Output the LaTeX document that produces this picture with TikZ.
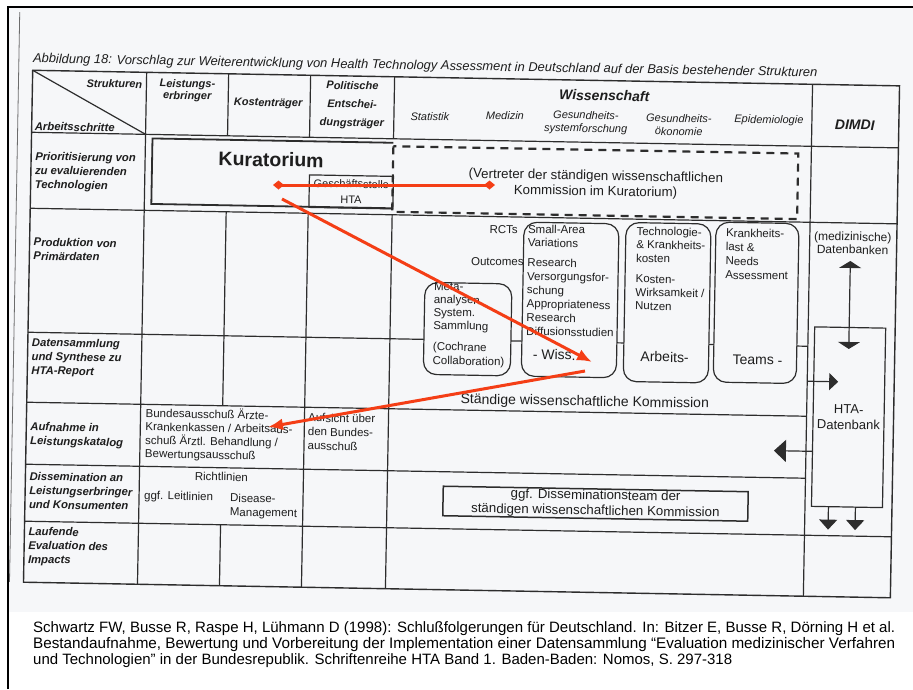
\documentclass[tikz,border=0pt]{standalone}
\usepackage{graphicx}
\usepackage{fontspec}
\setmainfont{Liberation Sans}
\usetikzlibrary{arrows.meta}
\definecolor{ink}{RGB}{30,30,30}
\definecolor{rule}{RGB}{45,45,45}
\definecolor{scan}{RGB}{246,247,249}
\definecolor{marker}{RGB}{244,62,22}

\begin{document}
\begin{tikzpicture}[x=1pt,y=-1pt,
  grid/.style={draw=rule,line width=1.2pt},
  lbl/.style={font=\bfseries\itshape\fontsize{11.3}{14}\selectfont,align=left,inner sep=0pt,text=ink,anchor=west},
  colhd/.style={font=\bfseries\itshape\fontsize{11}{12}\selectfont,align=center,inner sep=0pt,text=ink},
  subhd/.style={font=\itshape\fontsize{11}{13}\selectfont,align=center,inner sep=0pt,text=ink},
  txt/.style={font=\fontsize{11.5}{13.5}\selectfont,align=left,inner sep=0pt,text=ink,anchor=west},
  mid/.style={font=\fontsize{13.3}{15.4}\selectfont,align=center,inner sep=0pt,text=ink},
  big/.style={font=\fontsize{14}{16}\selectfont,inner sep=0pt,text=ink},
  rbox/.style={draw=rule,line width=1.2pt,rounded corners=13pt,fill=scan},
  blk/.style={draw=rule,line width=1.2pt},
  redline/.style={draw=marker,line width=3pt},
  cite/.style={font=\fontsize{12}{16}\selectfont,inner sep=0pt,anchor=west,text=black}
]
\useasboundingbox (0,0) rectangle (913,689);
\fill[white] (0,0) rectangle (913,689);
% scanned page area and frame
\fill[scan] (8,7) rectangle (913,612);
\draw[black,line width=2.5pt] (8,689) -- (8,7) -- (913,7);

\begin{scope}[rotate around={-1.03:(460,335)},transform shape]
  % edge of the scanned sheet
  \draw[rule!70,line width=0.8pt] (14,20) -- (14,590);
  % title
  \node[anchor=west,inner sep=0pt,text=ink,font=\itshape\fontsize{12.9}{14}\selectfont] (title) at (28,67)
    {Abbildung 18: Vorschlag zur Weiterentwicklung von Health Technology Assessment in Deutschland auf der Basis bestehender Strukturen};

  % table rules
  \draw[grid,line width=1.4pt] (28,78) rectangle (895,590);
  \draw[grid] (28,140) -- (895,140);
  \draw[grid] (28,216) -- (895,216);
  \draw[grid] (28,340) -- (808,340);
  \draw[grid] (28,410) -- (808,410);
  \draw[grid] (28,472) -- (808,472);
  \draw[grid] (28,529) -- (895,529);
  \draw[grid] (142,78) -- (142,590);
  \draw[grid] (224,78) -- (224,140) (224,216) -- (224,410) (224,529) -- (224,590);
  \draw[grid] (306,78) -- (306,140) (306,216) -- (306,590);
  \draw[grid] (390,78) -- (390,140) (390,216) -- (390,590);
  \draw[grid] (808,78) -- (808,590);
  \draw[grid] (28,78) -- (142,140);

  % header
  \node[colhd,anchor=east] (strk) at (138,90) {Strukturen};
  \node[lbl] (arbs) at (31,134) {Arbeitsschritte};
  \node[colhd] (leist) at (183,95.5) {Leistungs-\\erbringer};
  \node[colhd] (kost) at (264,107) {Kostenträger};
  \node[colhd,font=\bfseries\itshape\fontsize{11}{18.5}\selectfont] (polit) at (348,107) {Politische\\Entschei-\\dungsträger};
  \node[colhd,font=\bfseries\itshape\fontsize{14}{16}\selectfont] (wiss) at (600,93) {Wissenschaft};
  \node[subhd] (stat) at (426,117) {Statistik};
  \node[subhd] (med) at (501,115) {Medizin};
  \node[subhd] (gsf) at (582,120.5) {Gesundheits-\\systemforschung};
  \node[subhd] (goek) at (675,121) {Gesundheits-\\ökonomie};
  \node[subhd] (epi) at (765,115) {Epidemiologie};
  \node[colhd,font=\bfseries\itshape\fontsize{14}{16}\selectfont] (dimdi) at (851,118) {DIMDI};

  % row labels
  \node[lbl] (prior) at (32,179) {Prioritisierung von\\zu evaluierenden\\Technologien};
  \node[lbl] (prod) at (32,256.5) {Produktion von\\Primärdaten};
  \node[lbl] (daten) at (32,365) {Datensammlung\\und Synthese zu\\HTA-Report};
  \node[lbl] (aufn) at (32,442.5) {Aufnahme in\\Leistungskatalog};
  \node[lbl] (dissem) at (32,498) {Dissemination an\\Leistungserbringer\\und Konsumenten};
  \node[lbl] (lauf) at (32,554) {Laufende\\Evaluation des\\Impacts};

  % prioritisation row
  \draw[draw=rule,line width=1.8pt] (390,144) -- (149,144) -- (149,209.5) -- (390,209.5);
  \node[font=\bfseries\fontsize{19.5}{22}\selectfont,inner sep=0pt,text=ink] (kur) at (268,163) {Kuratorium};
  \node[blk,minimum width=84pt,minimum height=32.5pt,inner sep=0pt,anchor=north west,
        font=\fontsize{11}{16}\selectfont,align=center,text=ink] (gs) at (306,177) {Geschäftsstelle\\HTA};
  \draw[draw=rule,line width=2.2pt,dash pattern=on 8pt off 6pt] (390,147.5) rectangle (795,213);
  \node[mid] (vertr) at (593,182) {(Vertreter der ständigen wissenschaftlichen\\Kommission im Kuratorium)};

  % working teams of the scientific commission
  \draw[rbox] (424,283) rectangle (511,375);
  \draw[rbox] (522,221) rectangle (617,375);
  \draw[rbox] (624,219.5) rectangle (709,378.5);
  \draw[rbox] (714,217.5) rectangle (797,377.5);
  \node[txt,font=\fontsize{11.5}{13}\selectfont] (meta) at (433,307.5) {Meta-\\analysen\\System.\\Sammlung};
  \node[txt,font=\fontsize{11.5}{14}\selectfont] (cochr) at (433,355) {(Cochrane\\Collaboration)};
  \node[txt,anchor=east] (rct) at (516,229) {RCTs};
  \node[txt,anchor=east] (outc) at (522.5,261) {Outcomes};
  \node[txt] (sav) at (526,234.5) {Small-Area\\Variations};
  \node[txt,font=\fontsize{11.5}{13.8}\selectfont] (resr) at (526,295.5) {Research\\Versorgungsfor-\\schung\\Appropriateness\\Research\\Diffusionsstudien};
  \node[big,anchor=west] (wissl) at (533,353) {- Wiss.};
  \node[txt] (techk) at (634.5,241.3) {Technologie-\\\& Krankheits-\\kosten};
  \node[txt] (kostw) at (634.5,289.3) {Kosten-\\Wirksamkeit /\\Nutzen};
  \node[big] (arbl) at (665,353.3) {Arbeits-};
  \node[txt,font=\fontsize{11.5}{14}\selectfont] (krank) at (724,249) {Krankheits-\\last \&\\Needs\\Assessment};
  \node[big] (teams) at (758,354.6) {Teams -};
  \node[mid,font=\fontsize{14}{15}\selectfont] (staend) at (586,400) {Ständige wissenschaftliche Kommission};

  % benefit catalogue row
  \node[txt] (bund) at (147,439.5) {Bundesausschuß Ärzte-\\Krankenkassen / Arbeitsaus-\\schuß Ärztl. Behandlung /\\Bewertungsausschuß};
  \node[txt,font=\fontsize{11.5}{14}\selectfont] (aufs) at (309.5,434.3) {Aufsicht über\\den Bundes-\\ausschuß};

  % dissemination row
  \node[txt,anchor=center] (richt) at (224,481) {Richtlinien};
  \node[txt] (leitl) at (147,502) {ggf. Leitlinien};
  \node[txt,font=\fontsize{11.5}{14}\selectfont] (disman) at (233,510) {Disease-\\Management};
  \node[blk,line width=1.5pt,minimum width=305pt,minimum height=29.5pt,inner sep=0pt,
        font=\fontsize{13.3}{15.4}\selectfont,align=center,text=ink] (dteam) at (598.5,501.25)
        {ggf. Disseminationsteam der\\ständigen wissenschaftlichen Kommission};

  % DIMDI column
  \node[txt,anchor=center,align=center,font=\fontsize{12}{13}\selectfont] (medb) at (851,236) {(medizinische)\\Datenbanken};
  \node[blk,fill=scan,minimum width=71pt,minimum height=179.5pt,inner sep=0pt,
        font=\fontsize{13}{15.5}\selectfont,align=center,text=ink] (htadb) at (850,410.25) {HTA-\\Datenbank};
  \coordinate (dbup) at (849,254);
  \coordinate (dbdown) at (849,342);
  \draw[draw=rule,line width=1.2pt,{Triangle[length=7pt,width=22pt]}-{Triangle[length=7pt,width=22pt]}] (dbup) -- (dbdown);
  \coordinate (kommout) at (808,375);
  \coordinate (dbin) at (839,375);
  \draw[draw=rule,line width=1.2pt,-{Triangle[length=9pt,width=17pt]}] (kommout) -- (dbin);
  \coordinate (dbleft) at (htadb.west |- 0,445);
  \coordinate (katin) at (776,445);
  \draw[draw=rule,line width=1.2pt,-{Triangle[length=12pt,width=22pt]}] (dbleft) -- (katin);
  \coordinate (outA) at (831.5,500);
  \coordinate (outB) at (858.5,500);
  \coordinate (tipA) at (831.5,523);
  \coordinate (tipB) at (858.5,523);
  \draw[draw=rule,line width=1.2pt,-{Triangle[length=10pt,width=18pt]}] (outA) -- (tipA);
  \draw[draw=rule,line width=1.2pt,-{Triangle[length=10pt,width=18pt]}] (outB) -- (tipB);
\end{scope}

% red annotation arrows
\coordinate (kurL) at (273,185);
\coordinate (kurR) at (495,185);
\draw[redline,{Diamond[length=11pt,width=9pt]}-{Diamond[length=11pt,width=9pt]}] (kurL) -- (kurR);
\coordinate (kurS) at (282,199);
\coordinate (wissT) at (592,362);
\draw[redline,-{Latex[length=15pt,width=12pt]}] (kurS) -- (wissT);
\coordinate (wissS) at (585,371);
\coordinate (bundT) at (268,427);
\draw[redline,-{Latex[length=15pt,width=12pt]}] (wissS) -- (bundT);

% source
\node[cite] (cite1) at (33,629) {\resizebox{862pt}{!}{Schwartz FW, Busse R, Raspe H, Lühmann D (1998): Schlußfolgerungen für Deutschland. In: Bitzer E, Busse R, Dörning H et al.}};
\node[cite] (cite2) at (33,645) {\resizebox{862pt}{!}{Bestandaufnahme, Bewertung und Vorbereitung der Implementation einer Datensammlung “Evaluation medizinischer Verfahren}};
\node[cite] (cite3) at (33,661) {\resizebox{699pt}{!}{und Technologien” in der Bundesrepublik. Schriftenreihe HTA Band 1. Baden-Baden: Nomos, S. 297-318}};
\end{tikzpicture}
\end{document}
